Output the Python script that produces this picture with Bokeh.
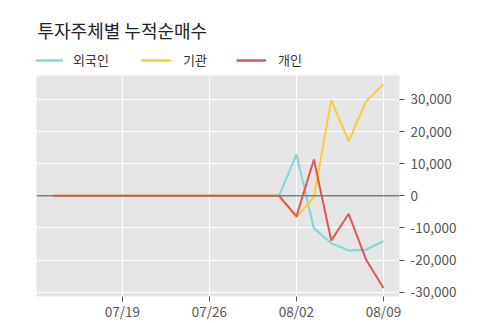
from bokeh.plotting import figure
from bokeh.layouts import column
from bokeh.models import (Range1d, FixedTicker, NumeralTickFormatter, Span, Label,
                          Legend, LegendItem)
from bokeh.embed import file_html
from bokeh.resources import INLINE

dates = ["07/15", "07/16", "07/17", "07/18", "07/19", "07/22", "07/23", "07/24", "07/25", "07/26",
         "07/29", "07/30", "07/31", "08/01", "08/02", "08/05", "08/06", "08/07", "08/08", "08/09"]
foreign = [0, 0, 0, 0, 0, 0, 0, 0, 0, 0, 0, 0, 0, 0, 12900, -10100, -14800, -17000, -16800, -14100]
institution = [0, 0, 0, 0, 0, 0, 0, 0, 0, 0, 0, 0, 0, 0, -6700, -400, 29700, 17000, 29400, 34700]
individual = [0, 0, 0, 0, 0, 0, 0, 0, 0, 0, 0, 0, 0, 0, -6400, 11300, -13900, -5600, -19900, -28700]
series_names = ["외국인", "기관", "개인"]
colors = ["#7dd9d7", "#f7cd3b", "#e05757"]
tick_idx = [4, 9, 14, 19]
y_ticks = [-30000, -20000, -10000, 0, 10000, 20000, 30000]
title_text = "투자주체별 누적순매수"

FONT = "Noto Sans CJK KR"
xs = list(range(len(dates)))

# header: title + legend (its frame is aligned with the main frame: x 36..399)
h = figure(width=500, height=75, frame_height=75, output_backend="svg", toolbar_location=None,
           x_range=Range1d(36, 399), y_range=Range1d(0, 75),
           x_axis_location=None, y_axis_location=None,
           min_border_left=36, min_border_right=101, min_border_top=0, min_border_bottom=0)
h.grid.visible = False
h.outline_line_color = None
h.background_fill_color = "white"
h.add_layout(Label(x=37, y=45.5, text=title_text, text_font=FONT, text_font_size="18px",
                   text_color="#222222", text_baseline="middle"))
legend_x = [-3, 105, 200]
standoffs = [10, 12, 12]
for n, c, lx, so in zip(series_names, colors, legend_x, standoffs):
    r = h.line([-1000, -999], [-1000, -1000], line_color=c, line_width=2.5)
    lg = Legend(items=[LegendItem(label=n, renderers=[r])],
                orientation="horizontal", location=(lx, 6),
                glyph_width=30, glyph_height=16, label_standoff=so,
                label_text_font=FONT, label_text_font_size="13px", label_text_color="#333333",
                label_height=16, border_line_color=None, background_fill_alpha=0,
                padding=0, margin=0)
    h.add_layout(lg, "center")

p = figure(width=500, height=248, frame_width=363, frame_height=221,
           output_backend="svg", toolbar_location=None,
           x_range=Range1d(-0.94, 19.92), y_range=Range1d(-31350, 37450),
           min_border_left=36, min_border_right=101, min_border_top=0, min_border_bottom=0,
           y_axis_location="right")
p.outline_line_color = None
p.background_fill_color = "#e5e5e5"
p.border_fill_color = "white"

p.add_layout(Span(location=0, dimension="width", line_color="#7f7f7f", line_width=1.5))

for ys, c in zip([foreign, institution, individual], colors):
    p.line(xs, ys, line_color=c, line_width=2)

p.xaxis.ticker = FixedTicker(ticks=tick_idx)
p.xaxis.major_label_overrides = {i: dates[i] for i in tick_idx}
p.yaxis.ticker = FixedTicker(ticks=y_ticks)
p.yaxis.formatter = NumeralTickFormatter(format="0,0")
for ax in [p.xaxis[0], p.yaxis[0]]:
    ax.axis_line_color = None
    ax.major_tick_line_color = "#555555"
    ax.major_tick_out = 5
    ax.major_tick_in = 0
    ax.minor_tick_line_color = None
    ax.major_label_text_color = "#555555"
    ax.major_label_text_font = FONT
    ax.major_label_text_font_size = "13.5px"
p.xaxis.major_label_standoff = -1
p.yaxis.major_label_standoff = 6
p.xgrid.grid_line_color = "white"
p.ygrid.grid_line_color = "white"

layout = column(h, p, spacing=0)
open("out.html", "w").write(file_html(layout, INLINE))
